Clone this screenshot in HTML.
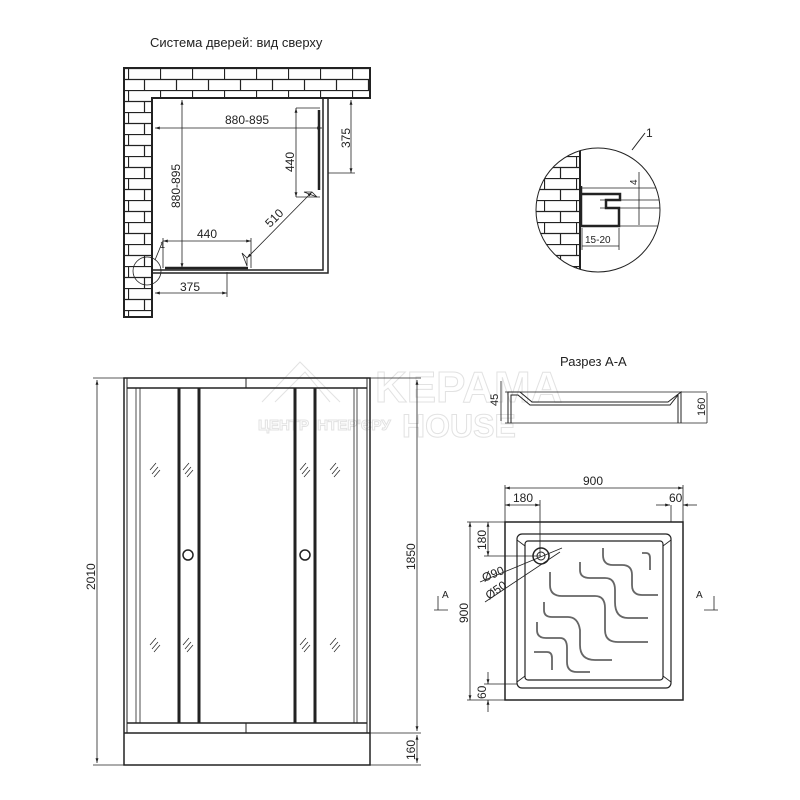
<!DOCTYPE html>
<html><head><meta charset="utf-8"><style>html,body{margin:0;padding:0;background:#fff}svg{display:block}text{font-family:"Liberation Sans","DejaVu Sans",sans-serif}</style></head>
<body>
<svg width="800" height="800" viewBox="0 0 800 800" xmlns="http://www.w3.org/2000/svg">
<defs>
<pattern id="brick" x="0" y="68" width="32" height="22" patternUnits="userSpaceOnUse">
<rect width="32" height="22" fill="#fff"/>
<path d="M0 0.5H32M0 11.5H32M0.5 0V11M16.5 11V22" stroke="#222" stroke-width="1.2" fill="none"/>
</pattern>
<marker id="ar" viewBox="0 0 10 10" refX="10" refY="5" markerWidth="6" markerHeight="6" orient="auto-start-reverse"><path d="M0 2L10 5L0 8z" fill="#222"/></marker>
</defs>

<!-- watermark -->
<g style="fill:#fff;stroke:#e2e2e2;stroke-width:1">
<text x="375" y="402" font-size="44" font-weight="bold" style="fill:#fff">KEPAMA</text>
<text x="402" y="437" font-size="32" font-weight="bold" style="fill:#fff">HOUSE</text>
<text x="258" y="430" font-size="15" font-weight="bold" style="fill:#fff">ЦЕНТР ІНТЕР'ЄРУ</text>
<path d="M262 402L300 362L340 402M275 402L305 372L330 402" fill="none"/>
</g>

<g fill="#222">
<text x="150" y="47" font-size="13">Система дверей: вид сверху</text>
</g>

<!-- TOP VIEW -->
<g stroke="#222" fill="none">
<path d="M124 68H370V98H152V317H124Z" fill="url(#brick)" stroke-width="2"/>
<path d="M152 98V317" stroke-width="2"/>
<path d="M323 98V270H152M328 98V273H152" stroke-width="1.5"/>
<path d="M319 110V190" stroke-width="2.5"/>
<path d="M165 268H248" stroke-width="2.5"/>
<g stroke-width="0.8">
<path d="M155 128H322" marker-start="url(#ar)" marker-end="url(#ar)"/>
<path d="M182 100V268" marker-start="url(#ar)" marker-end="url(#ar)"/>
<path d="M296 108V197" marker-start="url(#ar)" marker-end="url(#ar)"/>
<path d="M296 108H320M296 197H320"/>
<path d="M351 100V173" marker-start="url(#ar)" marker-end="url(#ar)"/>
<path d="M328 173H355"/>
<path d="M163 241H251" marker-start="url(#ar)" marker-end="url(#ar)"/>
<path d="M163 238V268M251 238V268"/>
<path d="M155 293H227" marker-start="url(#ar)" marker-end="url(#ar)"/>
<path d="M227 272V297"/>
<path d="M247 258L312 192" marker-start="url(#ar)" marker-end="url(#ar)"/>
<path d="M247 258l-5 -5 5 13zM312 192l5 5 -13 -5z"/>
<circle cx="147" cy="271" r="14"/>
<path d="M155 260L162 243"/>
</g>
</g>
<g font-size="12" fill="#222">
<text x="225" y="124">880-895</text>
<text x="0" y="0" transform="translate(180 208) rotate(-90)">880-895</text>
<text x="0" y="0" transform="translate(294 172) rotate(-90)">440</text>
<text x="0" y="0" transform="translate(350 148) rotate(-90)">375</text>
<text x="197" y="238">440</text>
<text x="180" y="291">375</text>
<text x="0" y="0" transform="translate(270 228) rotate(-45)">510</text>
<text x="160" y="248" font-size="9">1</text>
</g>

<!-- DETAIL -->
<g stroke="#222" fill="none">
<clipPath id="cc"><circle cx="598" cy="210" r="62"/></clipPath>
<g clip-path="url(#cc)">
<rect x="530" y="140" width="50" height="140" fill="url(#brick)" stroke="none"/>
<path d="M580 140V280" stroke-width="2"/>
<path d="M580 188H670M600 200H670M600 208H670M580 226H670" stroke-width="0.8"/>
<path d="M581 186V226H619V208H606V200H620V194H582" stroke-width="2.5"/>
</g>
<circle cx="598" cy="210" r="62" stroke-width="1"/>
<path d="M632 150L645 133" stroke-width="1"/>
<path d="M639 172V225M582 228V250M619 228V250M582 246H619" stroke-width="0.8"/>
</g>
<g fill="#222">
<text x="646" y="137" font-size="12">1</text>
<text x="0" y="0" transform="translate(637 185) rotate(-90)" font-size="10">4</text>
<text x="585" y="243" font-size="10">15-20</text>
</g>

<!-- FRONT VIEW -->
<g stroke="#222" fill="none">
<rect x="124" y="378" width="246" height="387" stroke-width="1.5"/>
<path d="M127 378V733M367 378V733" stroke-width="1"/>
<path d="M124 733H370M127 388H367M127 723H367" stroke-width="1.5"/>
<path d="M246 378V388M246 723V733" stroke-width="1"/>
<path d="M136 388V723M140 388V723M354 388V723M357 388V723" stroke-width="0.8"/>
<g stroke-width="3">
<path d="M179 388V723M199 388V723M295 388V723M315 388V723"/>
</g>
<circle cx="188" cy="555" r="5" stroke-width="1.5"/>
<circle cx="305" cy="555" r="5" stroke-width="1.5"/>
<g stroke-width="0.7">
<path d="M150 470l6 -7M152 474l6 -7M154 477l6 -7"/>
<path d="M183 470l6 -7M185 474l6 -7M187 477l6 -7"/>
<path d="M300 470l6 -7M302 474l6 -7M304 477l6 -7"/>
<path d="M330 470l6 -7M332 474l6 -7M334 477l6 -7"/>
<path d="M150 645l6 -7M152 649l6 -7M154 652l6 -7"/>
<path d="M183 645l6 -7M185 649l6 -7M187 652l6 -7"/>
<path d="M300 645l6 -7M302 649l6 -7M304 652l6 -7"/>
<path d="M330 645l6 -7M332 649l6 -7M334 652l6 -7"/>
</g>
<g stroke-width="0.8">
<path d="M97 380V763" marker-start="url(#ar)" marker-end="url(#ar)"/>
<path d="M93 378H124M93 765H124"/>
<path d="M417 380V731" marker-start="url(#ar)" marker-end="url(#ar)"/>
<path d="M417 735V763" marker-start="url(#ar)" marker-end="url(#ar)"/>
<path d="M370 378H421M370 733H421M370 765H421"/>
</g>
</g>
<g font-size="12" fill="#222">
<text x="0" y="0" transform="translate(95 590) rotate(-90)">2010</text>
<text x="0" y="0" transform="translate(415 570) rotate(-90)">1850</text>
<text x="0" y="0" transform="translate(415 760) rotate(-90)">160</text>
</g>

<!-- SECTION A-A -->
<text x="560" y="366" font-size="13" fill="#222">Разрез А-А</text>
<g stroke="#222" fill="none" stroke-width="1">
<path d="M505 392H707M505 423H707" stroke-width="0.8"/>
<path d="M508 423V392H520L532 402H668L681 392V423"/>
<path d="M511 423V395H518L530 405H670L678 395V423"/>
<path d="M501 381V421M707 393V423" stroke-width="0.8"/>
</g>
<g fill="#222">
<text x="0" y="0" transform="translate(498 406) rotate(-90)" font-size="11">45</text>
<text x="0" y="0" transform="translate(705 416) rotate(-90)" font-size="11">160</text>
</g>

<!-- TRAY PLAN -->
<g stroke="#222" fill="none">
<rect x="505" y="522" width="178" height="178" stroke-width="1.5"/>
<rect x="517" y="534" width="154" height="154" rx="5" stroke-width="1.2"/>
<rect x="525" y="541" width="138" height="139" rx="3" stroke-width="1.2"/>
<path d="M517 540L525 546M671 540L663 546M517 682L525 676M671 682L663 676" stroke-width="0.8"/>
<circle cx="541" cy="556" r="8" stroke-width="1.5"/>
<circle cx="541" cy="556" r="4" stroke-width="1"/>
<g stroke="#666" stroke-width="1.8">
<path d="M603 548V555Q603 565 613 565H622Q632 565 632 575V585Q632 595 642 595H658"/>
<path d="M642 553H646Q650 553 650 558V570"/>
<path d="M580 562V570Q580 578 590 578H605Q615 578 615 590V602Q615 618 628 618H648"/>
<path d="M550 572V585Q550 596 562 596H595Q605 596 605 608V630Q605 642 618 642H648"/>
<path d="M544 602V610Q544 617 552 617H568Q578 617 580 630V645Q580 660 595 660H612"/>
<path d="M537 622V630Q537 638 546 638H560Q567 638 567 648V662Q567 672 577 672H590"/>
<path d="M534 652H547Q552 652 552 658V670"/>
</g>
<g stroke-width="0.8">
<path d="M505 485V522M683 485V522M540 500V556M671 505V522"/>
<path d="M505 488H683" marker-start="url(#ar)" marker-end="url(#ar)"/>
<path d="M505 505H540" marker-start="url(#ar)" marker-end="url(#ar)"/>
<path d="M656 505H670" marker-end="url(#ar)"/><path d="M697 505H683" marker-end="url(#ar)"/>
<path d="M467 522H505M467 700H505M484 556H541M484 684H517"/>
<path d="M470 522V700" marker-start="url(#ar)" marker-end="url(#ar)"/>
<path d="M488 522V556" marker-start="url(#ar)" marker-end="url(#ar)"/>
<path d="M488 672V684" marker-end="url(#ar)"/><path d="M488 712V700" marker-end="url(#ar)"/>
<path d="M480 582L562 548M485 602L560 552"/>
<path d="M434 610H448M438 610V596M704 610H718M714 610V596"/>
</g>
</g>
<g font-size="12" fill="#222">
<text x="583" y="485">900</text>
<text x="513" y="502">180</text>
<text x="669" y="502">60</text>
<text x="0" y="0" transform="translate(468 623) rotate(-90)">900</text>
<text x="0" y="0" transform="translate(486 550) rotate(-90)">180</text>
<text x="0" y="0" transform="translate(486 699) rotate(-90)">60</text>
<text x="0" y="0" transform="translate(484 582) rotate(-22)">Ø90</text>
<text x="0" y="0" transform="translate(489 600) rotate(-35)">Ø50</text>
<text x="442" y="598" font-size="10">A</text>
<text x="696" y="598" font-size="10">A</text>
</g>
</svg>
</body></html>
